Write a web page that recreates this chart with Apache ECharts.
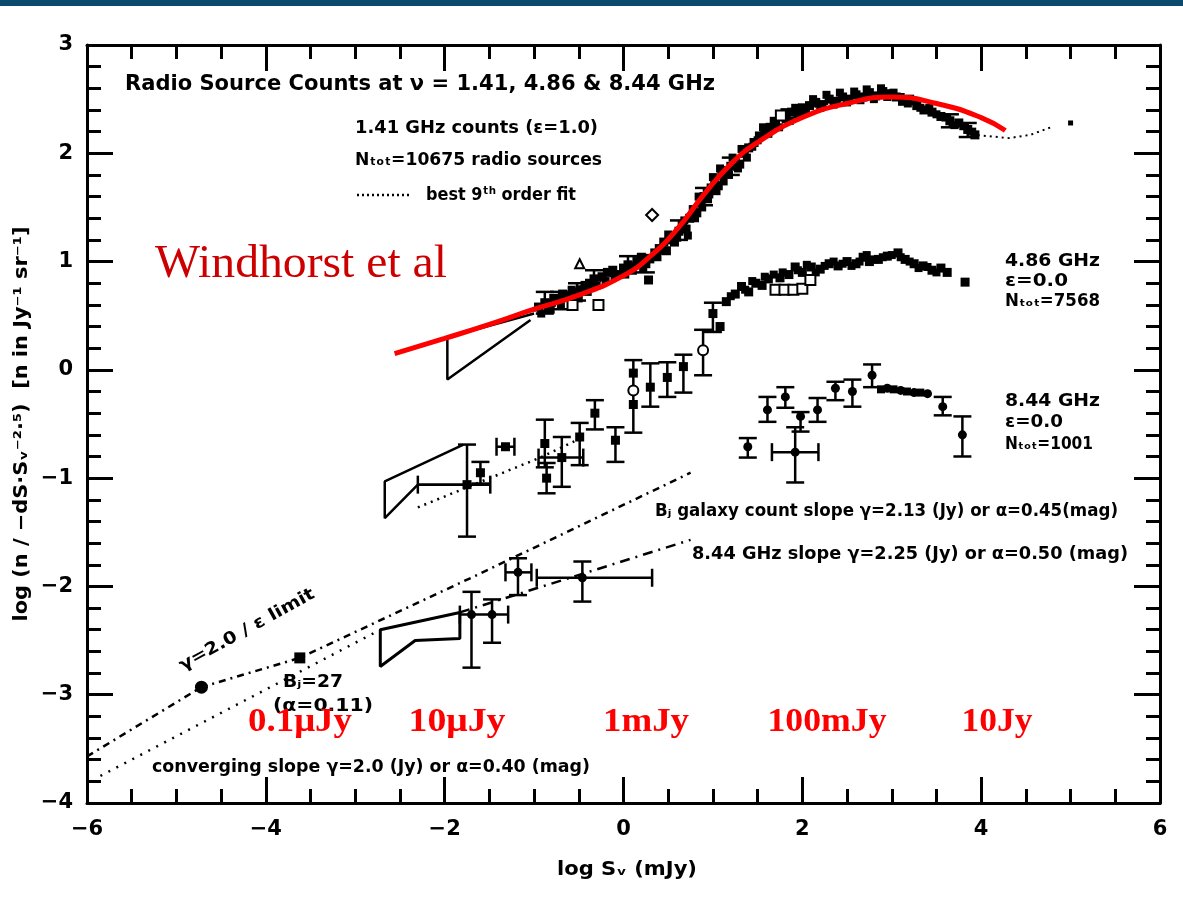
<!DOCTYPE html>
<html><head><meta charset="utf-8">
<script src="https://cdn.jsdelivr.net/npm/echarts/dist/echarts.min.js"></script>
<style>html,body{margin:0;padding:0;background:#fff}#c{width:1183px;height:900px}</style>
</head><body><div id="c"></div><script>
// ---- axis ranges ----
const xRange = [-6, 6], xStep = 2;
const yRange = [-4, 3], yStep = 1;

// ---- 1.41 GHz counts (filled points) ----
const pts141 = [[-0.95,0.58],[-0.88,0.62],[-0.82,0.56],[-0.78,0.66],[-0.72,0.64],[-0.68,0.70],[-0.62,0.68],[-0.52,0.72],[-0.47,0.74],[-0.43,0.78],[-0.38,0.80],[-0.33,0.84],[-0.24,0.86],[-0.18,0.90],[-0.12,0.92],[-0.06,0.88],[0.00,0.94],[0.05,0.97],[0.10,0.92],[0.15,1.00],[0.20,1.04],[0.25,0.98],[0.28,0.83],[0.35,1.08],[0.40,1.12],[0.45,1.18],[0.48,1.10],[0.53,1.20],[0.57,1.18],[0.62,1.28],[0.66,1.33],[0.70,1.30],[0.74,1.40],[0.78,1.48],[0.82,1.45],[0.86,1.55],[0.90,1.60],[0.94,1.58],[0.98,1.68],[1.02,1.72],[1.06,1.70],[1.10,1.80],[1.15,1.84],[1.20,1.88],[1.25,1.93],[1.30,1.90],[1.35,2.00],[1.40,2.05],[1.46,2.10],[1.52,2.16],[1.58,2.20],[1.64,2.24],[1.70,2.27],[1.82,2.32],[1.88,2.38],[1.95,2.36],[2.00,2.42],[2.08,2.44],[2.15,2.47],[2.22,2.45],[2.30,2.50],[2.38,2.48],[2.45,2.52],[2.52,2.50],[2.60,2.54],[2.68,2.52],[2.75,2.56],[2.82,2.53],[2.90,2.57],[2.98,2.55],[3.05,2.52],[3.12,2.48],[3.20,2.50],[3.28,2.44],[3.36,2.40],[3.45,2.38],[3.55,2.34],[3.65,2.30],[3.75,2.28],[3.85,2.22],[3.93,2.17]];
const pts141b = [[-0.92,0.52],[-0.80,0.62],[-0.70,0.60],[-0.58,0.74],[-0.50,0.66],[-0.40,0.72],[-0.30,0.78],[-0.20,0.82],[-0.10,0.86],[0.02,0.88],[0.12,0.96],[0.22,0.94],[0.30,1.02],[0.38,1.04],[0.44,1.10],[0.50,1.25],[0.60,1.22],[0.68,1.38],[0.72,1.24],[0.80,1.40],[0.84,1.60],[0.88,1.50],[0.96,1.62],[1.00,1.78],[1.04,1.65],[1.08,1.86],[1.12,1.74],[1.18,1.80],[1.22,1.96],[1.28,1.86],[1.32,2.04],[1.38,1.96],[1.44,2.06],[1.50,2.12],[1.56,2.24],[1.62,2.18],[1.68,2.30],[1.74,2.24],[1.80,2.38],[1.86,2.30],[1.92,2.42],[2.04,2.38],[2.12,2.50],[2.20,2.42],[2.27,2.54],[2.35,2.45],[2.42,2.56],[2.50,2.47],[2.58,2.57],[2.65,2.49],[2.72,2.59],[2.80,2.50],[2.88,2.60],[2.95,2.52],[3.02,2.56],[3.10,2.52],[3.18,2.46],[3.25,2.48],[3.32,2.42],[3.42,2.42],[3.50,2.36],[3.60,2.33],[3.70,2.26],[3.80,2.25],[3.90,2.20]];
const err141 = [[-0.88,0.62,0.52,0.72,null,null],[-0.72,0.64,0.56,0.72,null,null],[-0.52,0.72,0.64,0.80,null,null],[-0.33,0.84,0.76,0.92,null,null],[0.05,0.97,0.90,1.05,null,null],[0.25,0.98,0.90,1.06,null,null],[0.62,1.28,1.20,1.38,null,null],[0.90,1.60,1.52,1.68,null,null],[1.20,1.88,1.80,1.96,null,null],[3.65,2.30,2.24,2.36,null,null],[3.85,2.22,2.15,2.28,null,null]];
const open141 = [[-0.57,0.60],[-0.28,0.60],[1.76,2.35]];
const diamond141 = [[0.32,1.43]];
const tri141 = [[-0.49,0.98]];
const tail141 = [[5.00,2.28]];
const fit141 = [[-0.95,0.58],[-0.5,0.73],[0,0.92],[0.4,1.12],[0.8,1.48],[1.2,1.88],[1.6,2.22],[2.0,2.40],[2.5,2.50],[3.0,2.54],[3.5,2.38],[3.93,2.17],[4.31,2.14],[4.55,2.17],[4.78,2.24]];
const wedge141 = [[-1.00,0.52],[-1.97,0.30],[-1.97,-0.09],[-1.04,0.46]];

// ---- 4.86 GHz counts ----
const pts486 = [[-1.75,-1.06],[-1.60,-0.95],[-1.32,-0.71],[-0.88,-0.68],[-0.86,-1.00],[-0.69,-0.81],[-0.49,-0.62],[-0.32,-0.40],[-0.09,-0.65],[0.11,-0.03],[0.11,-0.32],[0.30,-0.16],[0.49,-0.07],[0.67,0.03],[1.00,0.52],[1.08,0.40],[1.15,0.63],[1.25,0.70],[1.32,0.77],[1.40,0.72],[1.48,0.80],[1.55,0.78],[1.62,0.84],[1.75,0.85],[1.85,0.88],[1.92,0.95],[2.00,0.90],[2.10,0.95],[2.20,0.93],[2.30,0.98],[2.40,0.96],[2.50,1.00],[2.60,0.98],[2.68,1.04],[2.75,1.00],[2.85,1.02],[2.95,1.05],[3.07,1.08],[3.15,1.02],[3.25,0.98],[3.35,0.96],[3.45,0.92],[3.55,0.94],[3.62,0.90],[3.82,0.81]];
const pts486b = [[1.20,0.68],[1.36,0.74],[1.44,0.82],[1.58,0.86],[1.68,0.88],[1.78,0.90],[1.95,0.92],[2.05,0.97],[2.15,0.90],[2.25,0.96],[2.35,1.00],[2.45,0.98],[2.55,0.96],[2.64,1.00],[2.72,1.06],[2.80,1.02],[2.90,1.04],[3.00,1.06],[3.10,1.04],[3.20,1.00],[3.30,0.94],[3.40,0.95],[3.50,0.90]];
const open486 = [[1.70,0.74],[1.80,0.74],[1.90,0.74],[2.00,0.75],[2.09,0.83]];
const circ486 = [[0.89,0.18],[0.11,-0.19]];
// [x, y, yLow, yHigh, xLow, xHigh]
const err486 = [[-1.75,-1.06,-1.54,-0.69,-2.30,-1.49],[-1.60,-0.95,-1.05,-0.85,null,null],[-1.32,-0.71,null,null,-1.42,-1.22],[-0.88,-0.68,-0.90,-0.46,null,null],[-0.86,-1.00,-1.14,-0.86,null,null],[-0.69,-0.81,-1.08,-0.62,-0.95,-0.45],[-0.49,-0.62,-0.88,-0.49,null,null],[-0.32,-0.40,-0.55,-0.28,null,null],[-0.09,-0.65,-0.85,-0.53,null,null],[0.11,-0.03,-0.58,0.09,null,null],[0.30,-0.16,-0.34,0.06,null,null],[0.49,-0.07,-0.25,0.07,null,null],[0.67,0.03,-0.21,0.14,null,null],[0.89,0.18,-0.05,0.37,null,null],[1.00,0.52,0.35,0.62,null,null]];
const wedge486 = [[-1.79,-0.69],[-2.67,-1.03],[-2.67,-1.37],[-2.30,-1.06],[-1.75,-1.06]];
const fit486 = [[-2.30,-1.27],[-0.93,-0.81],[-0.55,-0.66]];

// ---- 8.44 GHz counts ----
const pts844 = [[-1.70,-2.26],[-1.47,-2.26],[-1.18,-1.87],[-0.46,-1.92],[1.39,-0.71],[1.92,-0.76],[1.61,-0.37],[1.81,-0.25],[1.98,-0.43],[2.17,-0.37],[2.37,-0.17],[2.56,-0.20],[2.78,-0.05],[2.95,-0.17],[3.10,-0.19],[3.25,-0.21],[3.40,-0.22],[3.57,-0.34],[3.79,-0.60]];
const band844 = [[2.88,-0.18],[3.02,-0.18],[3.17,-0.20],[3.32,-0.21]];
const err844 = [[-1.70,-2.26,-2.75,-2.05,null,null],[-1.47,-2.26,-2.52,-2.12,-1.83,-1.29],[-1.18,-1.87,-2.08,-1.74,-1.32,-1.03],[-0.46,-1.92,-2.14,-1.77,-0.97,0.32],[1.39,-0.71,-0.81,-0.63,null,null],[1.92,-0.76,-1.04,-0.53,1.66,2.18],[1.61,-0.37,-0.48,-0.25,null,null],[1.81,-0.25,-0.35,-0.16,null,null],[1.98,-0.43,-0.57,-0.39,null,null],[2.17,-0.37,-0.48,-0.26,null,null],[2.37,-0.17,-0.28,-0.11,null,null],[2.56,-0.20,-0.34,-0.09,null,null],[2.78,-0.05,-0.16,0.05,null,null],[3.57,-0.34,-0.42,-0.25,null,null],[3.79,-0.60,-0.80,-0.43,null,null]];
const wedge844 = [[-1.83,-2.24],[-2.72,-2.40],[-2.72,-2.74],[-2.33,-2.50],[-1.83,-2.48],[-1.83,-2.24]];

// ---- optical / slope reference lines ----
const bjPoints = [[-4.72,-2.93]];
const bjSquare = [[-3.62,-2.66]];
const lineBJ = [[-6,-3.57],[-4.72,-2.93],[-3.62,-2.66],[-1.60,-1.88],[0.75,-0.95]];
const lineConv = [[-5.85,-3.75],[-2.72,-2.40]];
const line844 = [[-1.83,-2.24],[0.75,-1.57]];

// ---- Windhorst et al model curve ----
const windhorst = [[-2.56,0.15],[-2.0,0.29],[-1.5,0.42],[-1.0,0.56],[-0.5,0.69],[0.0,0.87],[0.3,1.05],[0.6,1.30],[0.9,1.62],[1.2,1.90],[1.5,2.10],[2.0,2.33],[2.5,2.46],[3.0,2.52],[3.5,2.46],[4.0,2.33],[4.27,2.21]];

// ---- flux labels ----
const fluxLabels = ['0.1\u03bcJy','10\u03bcJy','1mJy','100mJy','10Jy'];

const chart = echarts.init(document.getElementById('c'), null, {renderer:'canvas'});
const minus = v => (v < 0 ? '\u2212' : '') + Math.abs(v);

function errRender(params, api){
  const x=api.value(0), y=api.value(1), yl=api.value(2), yh=api.value(3), xl=api.value(4), xh=api.value(5);
  const st={stroke:'#000', lineWidth:2.5};
  const ch=[]; const cap=9;
  if(isFinite(yl)&&isFinite(yh)){
    const a=api.coord([x,yl]), b=api.coord([x,yh]);
    ch.push({type:'line',shape:{x1:a[0],y1:a[1],x2:b[0],y2:b[1]},style:st});
    ch.push({type:'line',shape:{x1:a[0]-cap,y1:a[1],x2:a[0]+cap,y2:a[1]},style:st});
    ch.push({type:'line',shape:{x1:b[0]-cap,y1:b[1],x2:b[0]+cap,y2:b[1]},style:st});
  }
  if(isFinite(xl)&&isFinite(xh)){
    const a=api.coord([xl,y]), b=api.coord([xh,y]);
    ch.push({type:'line',shape:{x1:a[0],y1:a[1],x2:b[0],y2:b[1]},style:st});
    ch.push({type:'line',shape:{x1:a[0],y1:a[1]-cap,x2:a[0],y2:a[1]+cap},style:st});
    ch.push({type:'line',shape:{x1:b[0],y1:b[1]-cap,x2:b[0],y2:b[1]+cap},style:st});
  }
  return {type:'group',children:ch};
}
function errSeries(d){
  return {type:'custom', renderItem:errRender, data:d, dimensions:['x','y','yl','yh','xl','xh'], encode:{x:0,y:1}, z:3, silent:true};
}
function lineS(d, w, type, z){
  return {type:'line', data:d, symbol:'none', lineStyle:{color:'#000', width:w, type:type}, z:z||2, silent:true, animation:false};
}
function scat(d, sym, size, z){
  return {type:'scatter', data:d, symbol:sym, symbolSize:size, itemStyle:{color:'#000', borderColor:'#000', borderWidth: sym.indexOf('empty')===0?2:0, opacity:1}, z:z||4, silent:true};
}

const mctx = document.createElement('canvas').getContext('2d');
function T(s, x, cy, w, size, o){
  o = o || {};
  const font = (o.weight||'bold') + ' ' + size + 'px ' + (o.family||'"DejaVu Sans"');
  mctx.font = font;
  const mw = mctx.measureText(s).width;
  return {type:'text', x:x, y:cy, rotation:o.rot||0, scaleX:w/mw, z:100,
    style:{text:s, font:font, fill:o.color||'#000', textAlign:o.align||'left', textVerticalAlign:'middle'}};
}

const axisCommon = {
  axisLine:{onZero:false, lineStyle:{color:'#000', width:3}},
  axisTick:{inside:true, length:26, lineStyle:{color:'#000', width:3}},
  minorTick:{show:true, length:14, lineStyle:{color:'#000', width:3}},
  splitLine:{show:false}, minorSplitLine:{show:false}
};
const lblStyle = {color:'#000', fontFamily:'DejaVu Sans', fontWeight:'bold', fontSize:21, formatter:minus};

const fluxX = [300, 457, 646, 827, 997];
const fluxW = [104, 97, 86, 119, 71];

chart.setOption({
  animation:false,
  backgroundColor:'#fff',
  grid:{left:87, right:23, top:45, bottom:97, containLabel:false},
  xAxis:[
    Object.assign({type:'value', min:xRange[0], max:xRange[1], interval:xStep, position:'bottom',
      axisLabel:Object.assign({margin:16}, lblStyle)}, axisCommon, {minorTick:Object.assign({splitNumber:4}, axisCommon.minorTick)}),
    Object.assign({type:'value', min:xRange[0], max:xRange[1], interval:xStep, position:'top',
      axisLabel:{show:false}}, axisCommon, {minorTick:Object.assign({splitNumber:4}, axisCommon.minorTick)})
  ],
  yAxis:[
    Object.assign({type:'value', min:yRange[0], max:yRange[1], interval:yStep, position:'left',
      axisLabel:Object.assign({margin:14}, lblStyle)}, axisCommon, {minorTick:Object.assign({splitNumber:5}, axisCommon.minorTick)}),
    Object.assign({type:'value', min:yRange[0], max:yRange[1], interval:yStep, position:'right',
      axisLabel:{show:false}}, axisCommon, {minorTick:Object.assign({splitNumber:5}, axisCommon.minorTick)})
  ],
  series:[
    lineS(fit141, 2, [2,4], 2),
    lineS(wedge141, 2.5, 'solid', 2),
    lineS(wedge486, 2.5, 'solid', 2),
    lineS(wedge844, 3, 'solid', 2),
    lineS(fit486, 2.5, [2,5], 2),
    lineS(lineBJ, 2.5, [7,5,2,5], 2),
    lineS(lineConv, 2.5, [2,7], 2),
    lineS(line844, 2.5, [10,6,2,6], 2),
    errSeries(err141),
    errSeries(err486),
    errSeries(err844),
    scat(pts141, 'rect', 9),
    scat(pts141b, 'rect', 8),
    scat(open141, 'emptyRect', 10),
    scat(diamond141, 'emptyDiamond', 12),
    scat(tri141, 'emptyTriangle', 9),
    scat(tail141, 'rect', 5),
    scat(pts486, 'rect', 9),
    scat(pts486b, 'rect', 8),
    scat(open486, 'emptyRect', 10),
    scat(circ486, 'emptyCircle', 10),
    scat(pts844, 'circle', 9),
    scat(band844, 'rect', 8),
    scat(bjPoints, 'circle', 13),
    scat(bjSquare, 'rect', 11),
    {type:'line', data:windhorst, smooth:0.5, symbol:'none', lineStyle:{color:'#ff0000', width:5}, z:10, silent:true}
  ],
  graphic:[
    {type:'rect', shape:{x:0, y:0, width:1183, height:6}, style:{fill:'#0b4a6e'}, z:100},
    T('Radio Source Counts at \u03bd = 1.41, 4.86 & 8.44 GHz', 125, 85, 590, 21),
    T('1.41 GHz counts (\u03b5=1.0)', 355, 128, 243, 18),
    T('N\u209c\u2092\u209c=10675 radio sources', 355, 160, 247, 18),
    {type:'line', shape:{x1:357, y1:195, x2:412, y2:195}, style:{stroke:'#000', lineWidth:2.5, lineDash:[2,3]}, z:100},
    T('best 9\u1d57\u02b0 order fit', 426, 195, 150, 18),
    T('Windhorst et al', 155, 265, 292, 46, {weight:'normal', family:'"Liberation Serif"', color:'#cc0000'}),
    T('4.86 GHz', 1005, 262, 95, 17),
    T('\u03b5=0.0', 1005, 282, 63, 17),
    T('N\u209c\u2092\u209c=7568', 1005, 302, 95, 17),
    T('8.44 GHz', 1005, 402, 95, 17),
    T('\u03b5=0.0', 1005, 423, 58, 17),
    T('N\u209c\u2092\u209c=1001', 1005, 445, 88, 17),
    T('B\u2c7c galaxy count slope \u03b3=2.13 (Jy) or \u03b1=0.45(mag)', 655, 512, 463, 17),
    T('8.44 GHz slope \u03b3=2.25 (Jy) or \u03b1=0.50 (mag)', 692, 555, 436, 17),
    T('converging slope \u03b3=2.0 (Jy) or \u03b1=0.40 (mag)', 152, 768, 438, 17),
    T('B\u2c7c=27', 283, 683, 60, 17),
    T('(\u03b1=0.11)', 273, 707, 100, 17),
    T('\u03b3=2.0 / \u03b5 limit', 247, 630, 152, 17, {align:'center', rot:29*Math.PI/180}),
    T('log S\u1d65 (mJy)', 557, 870, 140, 20),
    T('log (n / \u2212dS\u00b7S\u1d65\u207b\u00b2\u00b7\u2075)  [n in Jy\u207b\u00b9 sr\u207b\u00b9]', 22, 424, 395, 19, {align:'center', rot:Math.PI/2})
  ].concat(fluxLabels.map((s,i)=>T(s, fluxX[i]-fluxW[i]/2, 722, fluxW[i], 34, {family:'"Liberation Serif"', color:'#ff0000'})))
});
</script></body></html>
